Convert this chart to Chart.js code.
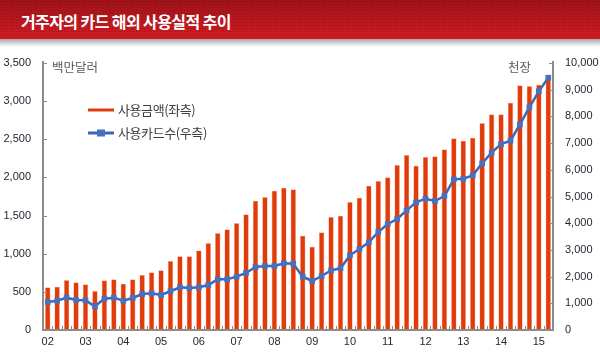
<!DOCTYPE html>
<html><head><meta charset="utf-8">
<script src="https://cdn.jsdelivr.net/npm/chart.js@4.4.1/dist/chart.umd.min.js"></script>
<style>
html,body{margin:0;padding:0;background:#fff;width:600px;height:355px;overflow:hidden;font-family:"Noto Sans CJK KR","Noto Sans",sans-serif;}
#title{position:absolute;left:0;top:0;width:600px;height:39px;z-index:2;
 background-color:#b8161e;
 background-image:radial-gradient(rgba(0,0,0,0.18) 0.7px, transparent 1px),linear-gradient(#9e1219,#d21b23);
 background-size:3px 3px,100% 100%;}
#title span{position:absolute;left:21px;top:9px;color:#fff;font-weight:bold;font-size:16px;letter-spacing:-0.6px;}
#shadow{position:absolute;left:0;top:39px;width:600px;height:8px;background:linear-gradient(#a8a8a8,#ffffff);z-index:2;}
#wrap{position:absolute;left:0;top:0;width:600px;height:355px;}
</style></head>
<body>
<div id="title"><span>거주자의 카드 해외 사용실적 추이</span></div>
<div id="shadow"></div>
<div id="wrap"><canvas id="c" width="600" height="355"></canvas></div>
<script>
const years = ["02","03","04","05","06","07","08","09","10","11","12","13","14","15"];
const quarters = ["1","2","3","4"];
const amountUSDmn = [560,568,655,625,599,511,651,664,607,664,721,756,784,906,968,968,1042,1140,1271,1320,1402,1516,1695,1743,1826,1866,1844,1236,1092,1280,1481,1499,1678,1735,1892,1953,2001,2163,2294,2154,2268,2277,2368,2513,2482,2521,2713,2827,2827,2980,3207,3198,3216,3290];
const cardsThousand = [1049,1099,1211,1124,1111,886,1174,1211,1099,1199,1348,1373,1311,1450,1598,1573,1598,1685,1898,1898,1997,2135,2360,2397,2397,2497,2485,1997,1835,2022,2235,2310,2797,3034,3283,3670,3970,4157,4480,4781,4918,4831,5019,5643,5668,5793,6242,6642,6966,7091,7703,8340,8939,9450];
const leftTicks = [0,500,1000,1500,2000,2500,3000,3500];
const rightTicks = [0,1000,2000,3000,4000,5000,6000,7000,8000,9000,10000];
const seriesNames = ["사용금액(좌측)","사용카드수(우측)"];
const unitLeft = "백만달러", unitRight = "천장";

const labels = [];
years.forEach(y=>quarters.forEach(q=>{ if(labels.length<amountUSDmn.length) labels.push(y+"Q"+q); }));

const BAR = "#e03c0a", LINE = "#3d67b5", MARK = "#4671c2", AXIS = "#8c8c8c", TXT = "#262633";
const TICKFONT = {size:11, family:"'Liberation Sans', Arial, sans-serif"};
const fmt = v => v.toLocaleString("en-US");

const deco = {
  id:"deco",
  afterDraw(chart){
    const {ctx, chartArea:a} = chart;
    ctx.save();
    ctx.strokeStyle = AXIS; ctx.lineWidth = 1;
    const yl = chart.scales.y, yr = chart.scales.y2;
    ctx.beginPath();
    leftTicks.forEach(t=>{const py=Math.round(yl.getPixelForValue(t))+0.5; ctx.moveTo(a.left,py); ctx.lineTo(a.left+4,py);});
    rightTicks.forEach(t=>{const py=Math.round(yr.getPixelForValue(t))+0.5; ctx.moveTo(a.right-4,py); ctx.lineTo(a.right,py);});
    const step = (a.right-a.left)/labels.length;
    for(let i=1;i<labels.length;i++){const px=Math.round(a.left+i*step)+0.5; ctx.moveTo(px,a.bottom); ctx.lineTo(px,a.bottom-4);}
    ctx.stroke();
    ctx.strokeStyle = AXIS; ctx.lineWidth = 2;
    ctx.beginPath();
    ctx.moveTo(a.left,a.top-2); ctx.lineTo(a.left,a.bottom); ctx.lineTo(a.right,a.bottom); ctx.lineTo(a.right,a.top-2);
    ctx.stroke();
    ctx.fillStyle = "#595959"; ctx.font = "12.5px 'Noto Sans CJK KR'"; ctx.textBaseline="middle";
    ctx.textAlign="left"; ctx.fillText(unitLeft, 52, 67);
    ctx.textAlign="right"; ctx.fillText(unitRight, 531, 67);
    ctx.font = "13px 'Noto Sans CJK KR'"; ctx.textAlign="left"; ctx.fillStyle="#404040";
    try{ ctx.letterSpacing = "-0.4px"; }catch(e){}
    ctx.strokeStyle = BAR; ctx.lineWidth = 3;
    ctx.beginPath(); ctx.moveTo(88,110); ctx.lineTo(114,110); ctx.stroke();
    ctx.fillText(seriesNames[0], 118, 110);
    ctx.strokeStyle = LINE; ctx.lineWidth = 3;
    ctx.beginPath(); ctx.moveTo(88,133); ctx.lineTo(114,133); ctx.stroke();
    ctx.fillStyle = MARK; ctx.fillRect(97,129.5,8,7);
    ctx.fillStyle="#404040"; ctx.fillText(seriesNames[1], 118, 133);
    ctx.restore();
  }
};

new Chart(document.getElementById("c"),{
  data:{labels,
    datasets:[
      {type:"line", data:cardsThousand, yAxisID:"y2", borderColor:LINE, borderWidth:2.5, backgroundColor:MARK,
       pointStyle:"rect", pointRadius:4, pointBorderWidth:0, pointBackgroundColor:MARK, tension:0, order:0},
      {type:"bar", data:amountUSDmn, yAxisID:"y", backgroundColor:BAR, borderColor:"rgba(250,170,150,0.9)", borderWidth:{left:0.6,right:0.6,top:0.6,bottom:0},
       barPercentage:0.58, categoryPercentage:1, order:1}
    ]},
  options:{
    responsive:false, animation:false, devicePixelRatio:1,
    layout:{padding:{top:63,left:0,right:0,bottom:0}},
    plugins:{legend:{display:false}, tooltip:{enabled:false}},
    scales:{
      x:{grid:{display:false, drawTicks:false}, border:{display:false},
         ticks:{autoSkip:false, maxRotation:0, padding:5, color:TXT, font:TICKFONT,
           callback:(v,i)=> i%4===0 ? years[i/4] : ""},
         afterFit:s=>{s.height=25;}},
      y:{position:"left", min:0, max:3500, grid:{display:false, drawTicks:false}, border:{display:false},
         afterBuildTicks:s=>{s.ticks=leftTicks.map(v=>({value:v}));},
         ticks:{color:TXT, padding:12, font:TICKFONT, callback:v=>fmt(v)},
         afterFit:s=>{s.width=43;}},
      y2:{position:"right", min:0, max:10000, grid:{display:false, drawTicks:false}, border:{display:false},
         afterBuildTicks:s=>{s.ticks=rightTicks.map(v=>({value:v}));},
         ticks:{color:TXT, padding:12, font:TICKFONT, callback:v=>fmt(v)},
         afterFit:s=>{s.width=47;}}
    }
  },
  plugins:[deco]
});
</script>
</body></html>
